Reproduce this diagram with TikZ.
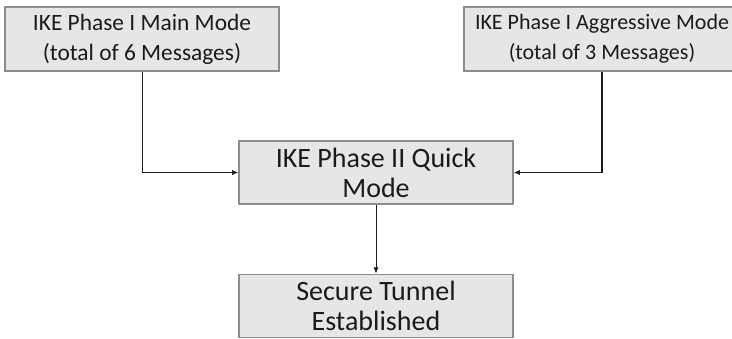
\documentclass[tikz,border=0pt]{standalone}
\usepackage{fontspec}
\setmainfont{Carlito}
\usepackage{tikz}
\usetikzlibrary{positioning, arrows.meta}
\definecolor{boxfill}{HTML}{E6E6E6}
\definecolor{boxline}{HTML}{8C8C8C}
\definecolor{ink}{HTML}{1A1A1A}

\begin{document}
\begin{tikzpicture}[x=1pt, y=1pt,
      phase/.style={rectangle, draw=boxline, line width=1.2pt,
        fill=boxfill, minimum width=274pt, minimum height=64pt,
        align=center, text=ink, font=\fontsize{23.4}{30}\selectfont,
        inner sep=0pt},
      arrow/.style={-{Latex[length=2.2mm, width=1.8mm]}, line width=1pt, color=ink}]

    \useasboundingbox (0,0) rectangle (732,338);

    \node[phase] (main) at (142,299) {IKE Phase I Main Mode\\(total of 6 Messages)};
    \node[phase, font=\fontsize{22}{30}\selectfont, minimum width=276pt]
      (aggr) at (602,299) {IKE Phase I Aggressive Mode\\(total of 3 Messages)};
    \node[phase, minimum height=63pt, font=\fontsize{28}{30}\selectfont]
      (quick) at (376,165.5) {IKE Phase II Quick\\Mode};
    \node[phase, minimum height=63pt, font=\fontsize{28}{30}\selectfont,
      below=69pt of quick] (tunnel) {Secure Tunnel\\Established};

    \draw[arrow] (main.south) |- (quick.west);
    \draw[arrow, line width=1.8pt] (aggr.south) |- (quick.east);
    \draw[arrow] (quick.south) -- (tunnel.north);
  \end{tikzpicture}
\end{document}
